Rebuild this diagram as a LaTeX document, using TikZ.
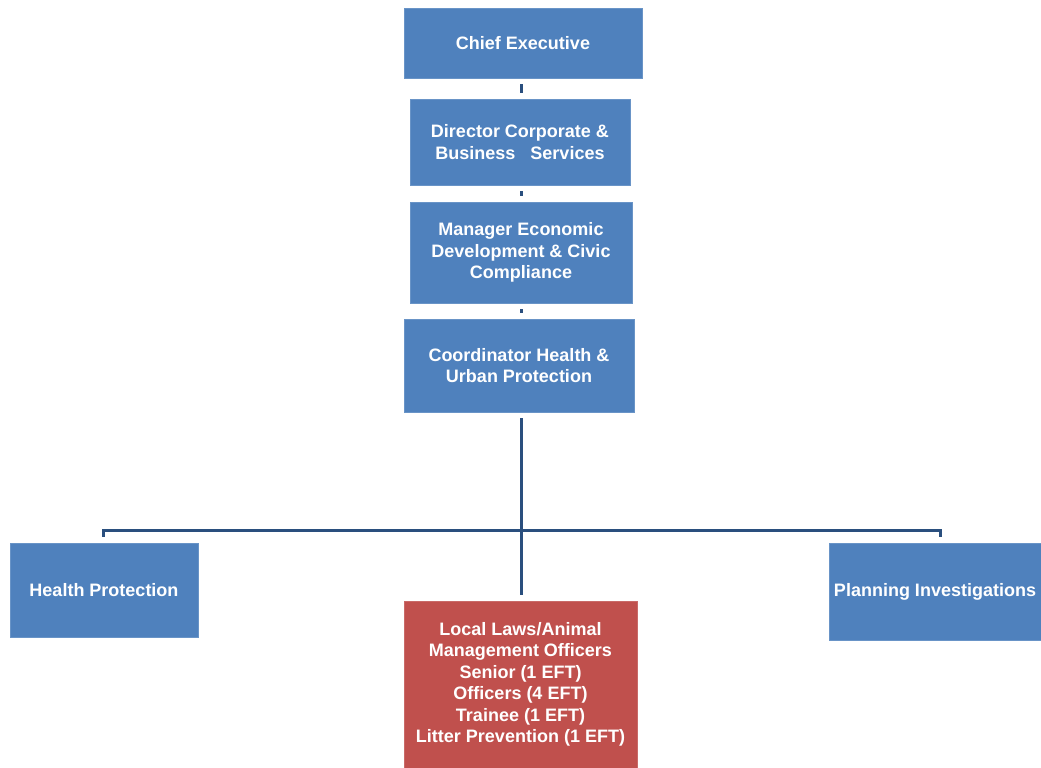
\documentclass[tikz,border=0pt]{standalone}
\usepackage{fontspec}
\setmainfont{Liberation Sans}
\definecolor{boxblue}{HTML}{4F81BD}
\definecolor{boxred}{HTML}{C0504D}
\definecolor{linkblue}{HTML}{2A4F7E}
\begin{document}
\begin{tikzpicture}[x=1pt,y=-1pt,
  org/.style={rectangle,fill=boxblue,draw=boxblue!85!white,line width=0.8pt,text=white,
    font=\bfseries\fontsize{18}{21.5}\selectfont,align=center,inner sep=0pt},
  conn/.style={draw=linkblue,line width=3pt},
  stub/.style={draw=linkblue,line width=3pt,shorten >=6pt,shorten <=6pt}]
\useasboundingbox[fill=white] (0,0) rectangle (1041,768);
\node[org,minimum width=238pt,minimum height=70pt] (ce) at (523,43) {Chief Executive};
\node[org,minimum width=220pt,minimum height=86pt] (dir) at (520,142) {Director Corporate \&\\Business\ \ \ Services};
\node[org,minimum width=222pt,minimum height=101pt] (man) at (521,252.5) {Manager Economic\\Development \& Civic\\Compliance};
\node[org,minimum width=230pt,minimum height=93pt] (coo) at (519,365.5) {Coordinator Health \&\\Urban Protection};
\node[org,minimum width=188pt,minimum height=94pt] (hp) at (104,590) {Health Protection};
\node[org,fill=boxred,draw=boxred!85!white,minimum width=233pt,minimum height=167pt] (red) at (520.5,684.5) {Local Laws/Animal\\Management Officers\\Senior (1 EFT)\\Officers\ (4 EFT)\\Trainee (1 EFT)\\Litter Prevention (1 EFT)};
\node[org,minimum width=212pt,minimum height=97pt] (pi) at (935,591.5) {Planning Investigations};
\coordinate (bar) at (521,530);
\coordinate (s1) at (ce.south -| bar);
\coordinate (s2) at (dir.north -| bar);
\coordinate (s3) at (dir.south -| bar);
\coordinate (s4) at (man.north -| bar);
\coordinate (s5) at (man.south -| bar);
\coordinate (s6) at (coo.north -| bar);
\coordinate (vtop) at (coo.south -| bar);
\coordinate (vbot) at (red.north -| bar);
\draw[stub] (s1) -- (s2);
\draw[stub] (s3) -- (s4);
\draw[stub] (s5) -- (s6);
\draw[conn] ([yshift=-6pt]vtop) -- ([yshift=6pt]vbot);
\draw[conn] ([xshift=-1pt,yshift=6pt]hp.north) |- (bar) -| ([xshift=5pt,yshift=6pt]pi.north);
\end{tikzpicture}
\end{document}
